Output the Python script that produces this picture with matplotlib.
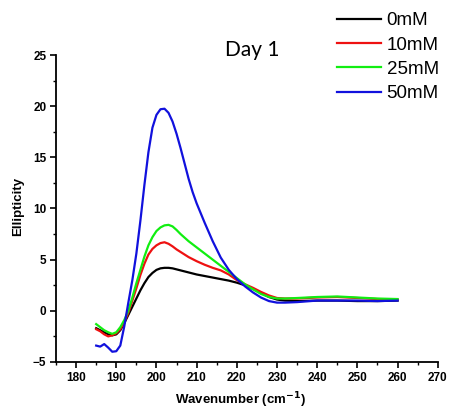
import matplotlib
matplotlib.use("Agg")
import matplotlib.pyplot as plt
from matplotlib.ticker import MultipleLocator

# wavenumber grid (cm^-1)
wavenumber = [185, 186, 187, 188, 189, 190, 191, 192, 193, 194, 195, 196, 197, 198, 199,
              200, 201, 202, 203, 204, 205, 206, 207, 208, 209, 210, 212, 214, 216, 218,
              220, 222, 224, 226, 228, 230, 232, 235, 240, 245, 250, 255, 260]

# ellipticity for each concentration
mm0 = [-1.7, -1.9, -2.1, -2.3, -2.4, -2.3, -1.9, -1.2, -0.4, 0.4, 1.2, 2.0, 2.7, 3.3, 3.7,
       4.0, 4.15, 4.2, 4.2, 4.15, 4.05, 3.95, 3.85, 3.75, 3.65, 3.55, 3.4, 3.25, 3.1, 2.95,
       2.75, 2.5, 2.15, 1.75, 1.35, 1.1, 1.0, 0.95, 1.0, 1.0, 0.95, 0.95, 1.0]
mm10 = [-1.8, -2.0, -2.3, -2.5, -2.4, -2.2, -1.8, -1.1, -0.2, 1.0, 2.2, 3.5, 4.6, 5.5, 6.05,
        6.4, 6.62, 6.7, 6.55, 6.3, 6.0, 5.75, 5.5, 5.25, 5.05, 4.85, 4.5, 4.2, 3.95, 3.55,
        3.0, 2.6, 2.25, 1.85, 1.5, 1.25, 1.2, 1.2, 1.3, 1.35, 1.25, 1.15, 1.1]
mm25 = [-1.3, -1.6, -1.9, -2.1, -2.25, -2.1, -1.6, -0.9, 0.0, 1.3, 2.7, 4.0, 5.3, 6.4, 7.2,
        7.8, 8.15, 8.35, 8.4, 8.25, 7.9, 7.5, 7.15, 6.8, 6.5, 6.2, 5.6, 5.0, 4.4, 3.8,
        3.2, 2.6, 2.1, 1.65, 1.35, 1.2, 1.2, 1.25, 1.35, 1.4, 1.3, 1.2, 1.15]
mm50 = [-3.4, -3.5, -3.25, -3.6, -4.0, -3.95, -3.4, -1.5, 0.8, 3.0, 5.6, 8.8, 12.3, 15.5, 17.9,
        19.15, 19.7, 19.75, 19.35, 18.5, 17.3, 15.9, 14.4, 12.9, 11.6, 10.5, 8.6, 6.8, 5.2, 4.0,
        3.1, 2.4, 1.8, 1.3, 0.95, 0.8, 0.8, 0.85, 1.0, 1.0, 1.0, 0.95, 1.0]

labels = ["0mM", "10mM", "25mM", "50mM"]
colors = ["#000000", "#ee1111", "#11ee11", "#1111dd"]

fig = plt.figure(figsize=(4.49, 4.09), dpi=100)
ax = fig.add_axes([0.1247, 0.115, 0.8503, 0.7505])

for ys, lab, col in zip([mm0, mm10, mm25, mm50], labels, colors):
    ax.plot(wavenumber, ys, color=col, lw=1.6, label=lab)

ax.set_xlim(175, 270)
ax.set_ylim(-5, 25)
ax.xaxis.set_major_locator(MultipleLocator(10))
ax.xaxis.set_minor_locator(MultipleLocator(5))
ax.yaxis.set_major_locator(MultipleLocator(5))
ax.yaxis.set_minor_locator(MultipleLocator(2.5))
ax.set_xticks(range(180, 271, 10))

for side in ["top", "right"]:
    ax.spines[side].set_visible(False)
for side in ["left", "bottom"]:
    ax.spines[side].set_linewidth(1.3)

ax.tick_params(which="major", direction="out", length=4, width=1.2, pad=3)
ax.tick_params(which="minor", direction="out", length=2.5, width=1.0)
for t in ax.get_xticklabels() + ax.get_yticklabels():
    t.set_fontfamily("Liberation Sans")
    t.set_fontweight("bold")
    t.set_fontsize(8.5)

fig.text(18 / 449, 0.495, "Ellipticity", rotation=90, ha="center", va="center",
         family="Liberation Sans", weight="bold", fontsize=9.5)
fig.text(240 / 449, 1 - 404 / 409, "Wavenumber (cm$^{\\mathbf{-1}}$)", ha="center",
         va="baseline", family="Liberation Sans", weight="bold", fontsize=9.5)
fig.text(252 / 449, 1 - 56 / 409, "Day 1", ha="center", va="baseline",
         family="Lato", fontsize=15)

fig.legend(loc="upper left", bbox_to_anchor=(337 / 449, 1 - 12 / 409),
           frameon=False, prop={"family": "Liberation Sans", "size": 13.5},
           handlelength=2.35, handletextpad=0.3, labelspacing=0.39,
           borderpad=0, borderaxespad=0)

fig.savefig("out.png", dpi=100)
